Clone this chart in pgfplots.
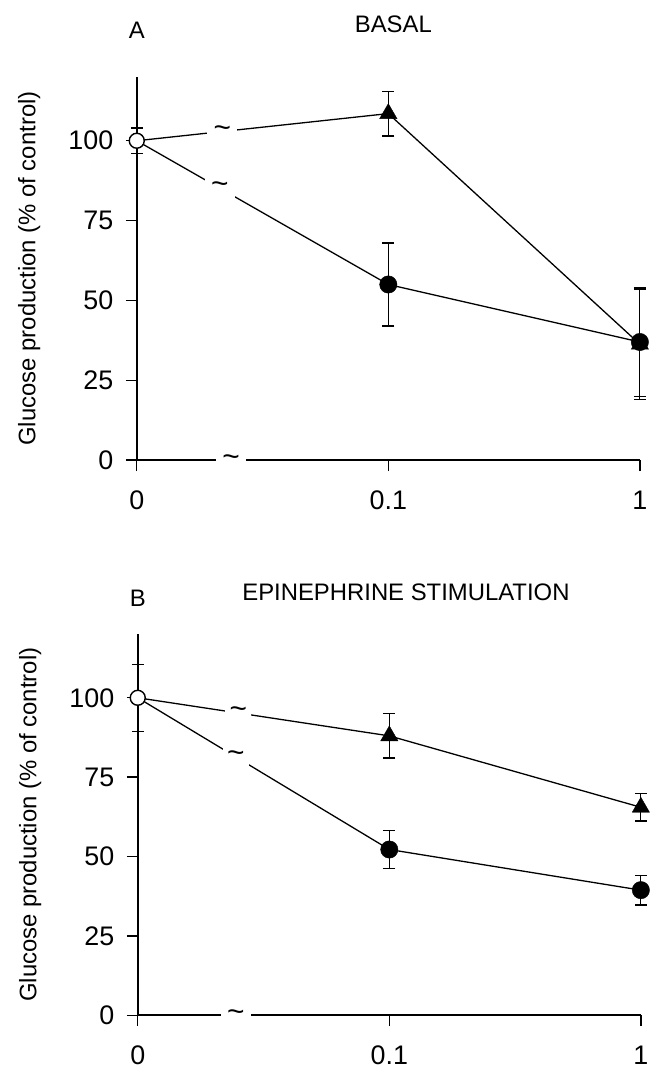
\documentclass[border=0pt]{standalone}
\usepackage{pgfplots}
\pgfplotsset{compat=1.18}
\usepackage{fontspec}
\setmainfont{Liberation Sans}

\begin{document}
\begin{tikzpicture}
\pgfplotsset{
  panel/.style={
    scale only axis, width=504bp,
    xmin=0, xmax=2, ymin=0, ymax=120,
    axis lines=left, axis line style={-, line width=1.5bp},
    xtick={0,1,2}, xticklabels={0,0.1,1},
    ytick={0,25,50,75,100},
    tick align=outside, major tick length=11bp,
    tick style={line width=1.4bp, black},
    clip=false,
    ticklabel style={font=\fontsize{27}{31}\selectfont},
    xticklabel style={yshift=-16bp},
    yticklabel style={xshift=-9bp},
    /pgf/number format/assume math mode=true,
    ylabel={Glucose production (\% of control)},
    ylabel style={at={(axis description cs:-0.214,0.5)}, anchor=center, font=\fontsize{24}{28}\selectfont},
    title style={font=\fontsize{24}{28}\selectfont, anchor=base},
    error bars/error mark options={black, line width=1.2bp, mark size=6bp, rotate=90},
    error bars/error bar style={line width=1.2bp},
  },
}
\tikzset{tilde/.style={fill=white, inner sep=0pt, minimum width=30bp, minimum height=20bp, font=\fontsize{30}{34}\selectfont}}

% ---------------- Panel A ----------------
\begin{axis}[panel, at={(0bp,0bp)}, anchor=south west, height=384bp,
  title={BASAL}, title style={at={(axis description cs:0.51,1.1)}}]
\addplot[black, line width=1.3bp] coordinates {(0,100) (1,108.5) (2,36.3)};
\addplot[black, line width=1.3bp] coordinates {(0,100) (1,55) (2,37)};
\addplot[black, only marks, mark=triangle*, mark size=10bp,
  error bars/.cd, y dir=both, y explicit] table[y error index=2] {
x y e
1 108.5 7
2 36.3 17.3
};
\addplot[black, only marks, mark=*, mark size=8.7bp,
  error bars/.cd, y dir=both, y explicit] table[y error index=2] {
x y e
1 55 13
2 37 17
};
\addplot[black, only marks, mark=*, mark size=7.5bp, mark options={fill=white, line width=1.4bp},
  error bars/.cd, y dir=both, y explicit] table[y error index=2] {
x y e
0 100 4
};
\coordinate (a1) at (axis cs:0.34,102.9);
\coordinate (a2) at (axis cs:0.33,85.2);
\coordinate (a3) at (axis cs:0.375,0);
\node[font=\fontsize{24}{28}\selectfont, anchor=base] at (axis description cs:0,1.1) {A};
\end{axis}
\node[tilde] at (a1) {\raisebox{-4bp}{\textasciitilde}};
\node[tilde] at (a2) {\raisebox{-4bp}{\textasciitilde}};
\node[tilde, minimum height=8bp] at (a3) {\raisebox{-4bp}{\textasciitilde}};

% ---------------- Panel B ----------------
\begin{axis}[panel, at={(1bp,-556bp)}, anchor=south west, height=381.6bp,
  title={EPINEPHRINE STIMULATION}, title style={at={(axis description cs:0.533,1.074)}}]
\addplot[black, line width=1.3bp] coordinates {(0,100) (1,88) (2,65.5)};
\addplot[black, line width=1.3bp] coordinates {(0,100) (1,52.2) (2,39.4)};
\addplot[black, only marks, mark=triangle*, mark size=10bp,
  error bars/.cd, y dir=both, y explicit] table[y error index=2] {
x y e
1 88 7
2 65.5 4.3
};
\addplot[black, only marks, mark=*, mark size=8.7bp,
  error bars/.cd, y dir=both, y explicit] table[y error index=2] {
x y e
1 52.2 6
2 39.4 4.7
};
\addplot[black, only marks, mark=*, mark size=7.5bp, mark options={fill=white, line width=1.4bp},
  error bars/.cd, y dir=both, y explicit] table[y error index=2] {
x y e
0 100 10.6
};
\coordinate (b1) at (axis cs:0.40,95.2);
\coordinate (b2) at (axis cs:0.39,81.4);
\coordinate (b3) at (axis cs:0.39,0);
\node[font=\fontsize{24}{28}\selectfont, anchor=base] at (axis description cs:0,1.074) {B};
\end{axis}
\node[tilde, minimum width=26bp] at (b1) {\raisebox{-4bp}{\textasciitilde}};
\node[tilde, minimum width=26bp] at (b2) {\raisebox{-4bp}{\textasciitilde}};
\node[tilde, minimum height=8bp] at (b3) {\raisebox{-4bp}{\textasciitilde}};
\path (-137bp,-607bp) rectangle (517bp,461bp);
\end{tikzpicture}
\end{document}
